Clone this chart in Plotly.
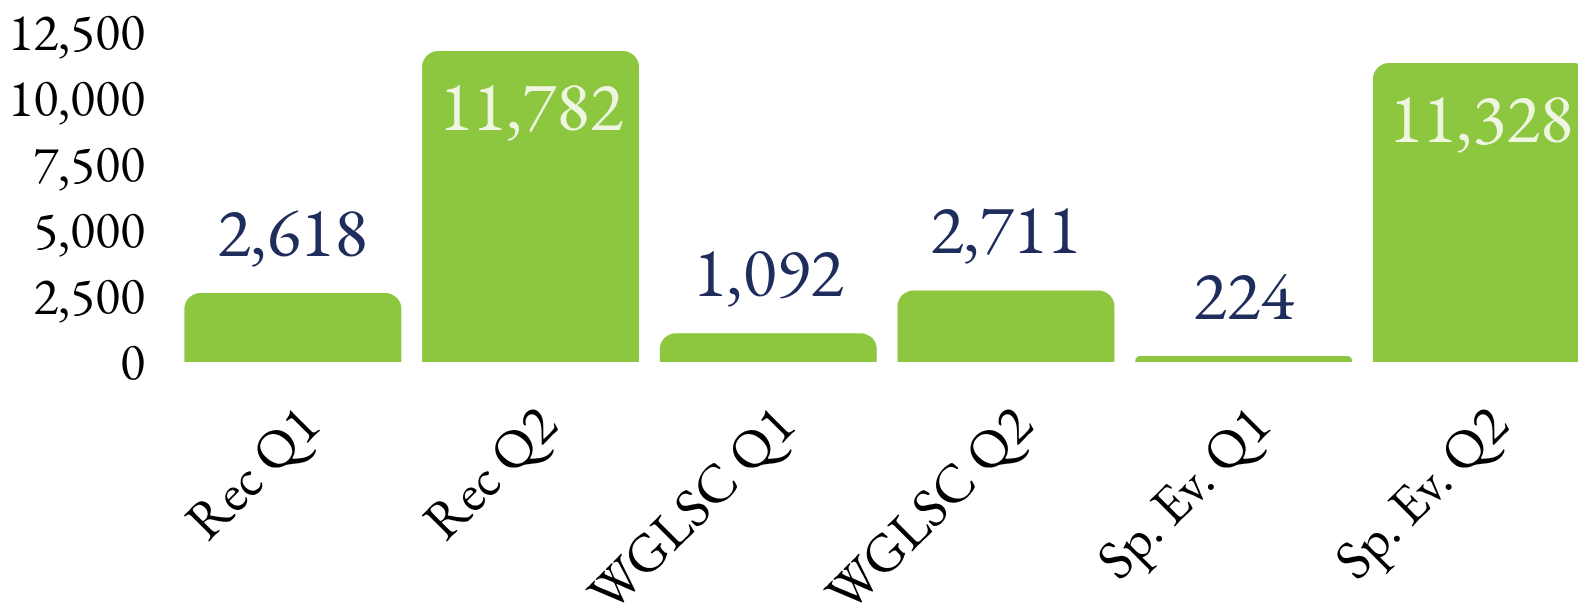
import plotly.graph_objects as go

categories = ["Rec Q1", "Rec Q2", "WGLSC Q1", "WGLSC Q2", "Sp. Ev. Q1", "Sp. Ev. Q2"]
values = [2618, 11782, 1092, 2711, 224, 11328]
y_ticks = [0, 2500, 5000, 7500, 10000, 12500]
y_tick_labels = ["0", "2,500", "5,000", "7,500", "10,000", "12,500"]
inside_threshold = 6000

GREEN = "#8DC63F"
NAVY = "#1E2D5C"
CREAM = "#EEF5E1"
FONT = "EB Garamond, Garamond, Liberation Serif, serif"

fig = go.Figure()
fig.add_trace(go.Bar(
    x=categories, y=values,
    marker=dict(color=GREEN, line=dict(width=0), cornerradius=16),
    hoverinfo="skip",
))

for c, v in zip(categories, values):
    if v >= inside_threshold:
        fig.add_annotation(x=c, y=v, text=f"{v:,}", showarrow=False,
                           yanchor="top", yshift=-7,
                           font=dict(family=FONT, size=70, color=CREAM))
    else:
        fig.add_annotation(x=c, y=v, text=f"{v:,}", showarrow=False,
                           yanchor="bottom", yshift=14,
                           font=dict(family=FONT, size=70, color=NAVY))

# page body has an 8px default margin; figure sized so its right/bottom meet the window edge
fig.update_layout(
    width=1578, height=599,
    margin=dict(l=166, r=0, t=24, b=245, autoexpand=False),
    paper_bgcolor="white", plot_bgcolor="white",
    bargap=0.0875,
    showlegend=False,
    font=dict(family=FONT, color="black"),
)
fig.update_xaxes(
    range=[-0.5, 5.44], tickangle=-45, showgrid=False, showline=False, zeroline=False,
    tickfont=dict(family=FONT, size=55, color="black"), automargin=False,
    ticks="", ticklabelstandoff=18, ticklabelshift=10, ticklabeloverflow="allow",
)
fig.update_yaxes(
    range=[0, 12500], tickvals=y_ticks, ticktext=y_tick_labels,
    showgrid=False, showline=False, zeroline=False, automargin=False,
    tickfont=dict(family=FONT, size=52, color="black"),
    ticks="", ticklabelstandoff=28, ticklabeloverflow="allow",
)

fig.write_html("out.html")
